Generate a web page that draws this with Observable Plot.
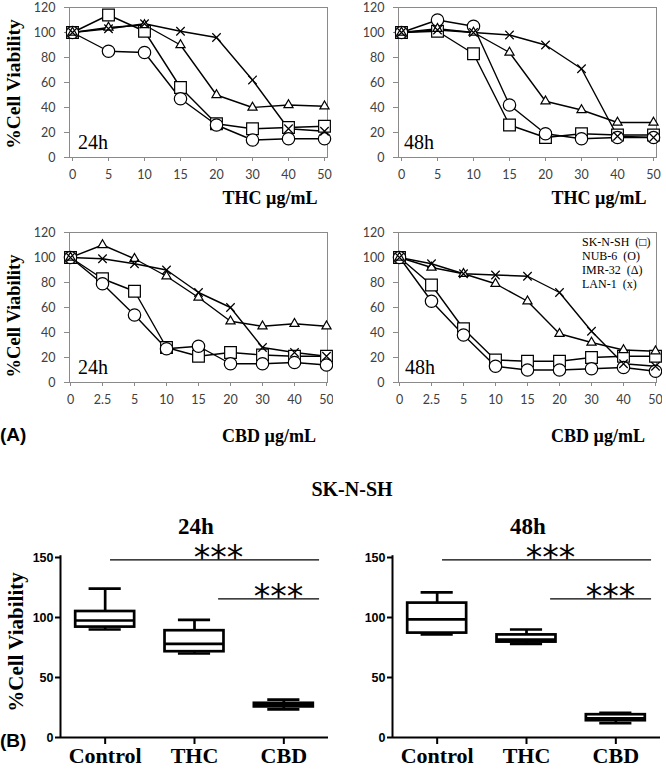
<!DOCTYPE html>
<html><head><meta charset="utf-8">
<script src="https://cdn.jsdelivr.net/npm/d3@7"></script>
<script src="https://cdn.jsdelivr.net/npm/@observablehq/plot@0.6"></script>
<style>
body{margin:0;background:#fff;}
#root{position:relative;width:666px;height:770px;overflow:hidden;background:#fff;}
.p{position:absolute;}
.t{position:absolute;white-space:pre;line-height:1;color:#000;}
</style></head><body><div id="root"></div>
<script>
// ---------- data ----------
const thcDoses = ["0","5","10","15","20","30","40","50"];
const cbdDoses = ["0","2.5","5","10","15","20","30","40","50"];
const lineYTicks = [0,20,40,60,80,100,120];

const cellLines = ["SK-N-SH","NUB-6","IMR-32","LAN-1"];
const legendSymbols = ["□","O","Δ","x"];

const thc24SKNSH = [100,114,101,56,27,23,24,25];
const thc24NUB6  = [100,85,84,47,26,14,15,15];
const thc24IMR32 = [100,104,106,90,50,40,42,41];
const thc24LAN1  = [100,103,107,101,96,62,23,21];

const thc48SKNSH = [100,101,83,26,16,19,18,18];
const thc48NUB6  = [100,110,105,42,19,15,16,16];
const thc48IMR32 = [100,103,100,84,45,38,28,28];
const thc48LAN1  = [100,102,100,98,90,71,17,16];

const cbd24SKNSH = [100,83,73,28,21,24,22,21,21];
const cbd24NUB6  = [100,79,54,27,29,15,15,16,14];
const cbd24IMR32 = [100,110,99,85,68,49,45,47,45];
const cbd24LAN1  = [100,99,95,90,72,60,28,24,21];

const cbd48SKNSH = [100,78,43,18,17,17,20,21,21];
const cbd48NUB6  = [100,65,38,13,10,10,11,12,9];
const cbd48IMR32 = [100,92,87,79,65,39,32,26,25];
const cbd48LAN1  = [100,95,87,86,85,72,41,15,13];

const boxGroups = ["Control","THC","CBD"];
const boxYTicks = [0,50,100,150];
const box24Low  = [90,70,23.5];
const box24Q1   = [92,71.5,25.5];
const box24Med  = [97.5,78,27];
const box24Q3   = [105,89,28.5];
const box24High = [124,98,31.5];
const box48Low  = [86,78,12];
const box48Q1   = [87,79.5,14];
const box48Med  = [98.5,81.5,16];
const box48Q3   = [112,85.5,19];
const box48High = [121,90,20.5];

const sigFrom = [1.06,2.27];
const sigTo   = [3.4,3.4];
const sigY    = [148,115.5];
const sigStarX = [2.27,2.94];
const sigText = ["***","***"];

// ---------- helpers ----------
const root = document.getElementById("root");
const SERIF = "Liberation Serif, Times New Roman, serif";
const SANS = "Liberation Sans, Arial, sans-serif";
const TICK = "Lato, Calibri, sans-serif";

function place(node, left, top) {
  const d = document.createElement("div");
  d.className = "p"; d.style.left = left + "px"; d.style.top = top + "px";
  d.appendChild(node); root.appendChild(d);
}
function addText(str, {x, y, size, family = SERIF, weight = "normal", anchor = "start", rotate = false}) {
  const d = document.createElement("div");
  d.className = "t";
  d.textContent = str;
  d.style.fontSize = size + "px";
  d.style.fontFamily = family;
  d.style.fontWeight = weight;
  if (rotate) {
    d.style.left = x + "px"; d.style.top = y + "px";
    d.style.transform = "translate(-50%,-50%) rotate(-90deg)";
  } else {
    d.style.left = x + "px"; d.style.top = (y - 0.84 * size) + "px";
    if (anchor === "middle") d.style.transform = "translateX(-50%)";
  }
  root.appendChild(d);
}

const symbolStyles = [
  {symbol: "square", r: 6.6, fill: "#fff"},
  {symbol: "circle", r: 6.2, fill: "#fff"},
  {symbol: "triangle", r: 3.4, fill: "#fff"},
  {symbol: "times", r: 3.9, fill: "none"}
];

function linePanel(doses, seriesValues, left, top, height) {
  const marks = [
    Plot.frame({stroke: "#8a8a8a"}),
    Plot.axisY({ticks: lineYTicks, tickSize: 5, tickPadding: 9, stroke: "#8a8a8a", color: "#404040",
      fontSize: 12.5, fontFamily: TICK, label: null}),
    Plot.axisX({tickSize: 4, tickPadding: 9, stroke: "#8a8a8a", color: "#404040",
      fontSize: 12.5, fontFamily: TICK, label: null, tickFormat: d => d})
  ];
  seriesValues.forEach(vals => {
    marks.push(Plot.line(doses, {x: d => d, y: vals, stroke: "#000", strokeWidth: 1.4}));
  });
  seriesValues.forEach((vals, i) => {
    const s = symbolStyles[i];
    marks.push(Plot.dot(doses, {x: d => d, y: vals, symbol: s.symbol, r: s.r, fill: s.fill,
      stroke: "#000", strokeWidth: 1.2}));
  });
  const svg = Plot.plot({
    width: 333, height,
    marginLeft: 69, marginRight: 6, marginTop: 7, marginBottom: height - 157,
    x: {type: "point", domain: doses, padding: 0},
    y: {domain: [0, 120]},
    style: {fontFamily: TICK, fontSize: "12.5px", background: "transparent", color: "#404040"},
    marks
  });
  place(svg, left, top);
}

function boxPanel(low, q1, med, q3, high, left, marginLeft, marginRight) {
  const idx = [1, 2, 3];
  const bw = 0.33, cw = 0.18;
  const sw = 2.7;
  const svg = Plot.plot({
    width: 333, height: 245,
    marginLeft, marginRight, marginTop: 32, marginBottom: 33,
    x: {domain: [0.5, 3.5]},
    y: {domain: [0, 150]},
    style: {fontFamily: SANS, fontSize: "12.5px", background: "transparent", color: "#000"},
    marks: [
      Plot.ruleY(sigY, {y: d => d, x1: sigFrom, x2: sigTo, stroke: "#000", strokeWidth: 1.1}),
      Plot.text(sigY, {x: sigStarX, y: d => d, text: sigText, lineAnchor: "middle", dy: -1,
        fontSize: 33, fontFamily: "DejaVu Sans", fill: "#000"}),
      Plot.ruleX(idx, {x: d => d, y1: low, y2: high, stroke: "#000", strokeWidth: sw}),
      Plot.ruleY(low, {y: d => d, x1: idx.map(i => i - cw), x2: idx.map(i => i + cw), stroke: "#000", strokeWidth: sw}),
      Plot.ruleY(high, {y: d => d, x1: idx.map(i => i - cw), x2: idx.map(i => i + cw), stroke: "#000", strokeWidth: sw}),
      Plot.rect(idx, {x1: i => i - bw, x2: i => i + bw, y1: q1, y2: q3, fill: "#fff", stroke: "#000", strokeWidth: sw}),
      Plot.ruleY(med, {y: d => d, x1: idx.map(i => i - bw), x2: idx.map(i => i + bw), stroke: "#000", strokeWidth: sw}),
      Plot.ruleX([0.5], {x: d => d, y1: 0, y2: 151.5, stroke: "#000", strokeWidth: 2}),
      Plot.ruleY([0], {y: d => d, x1: 0.5, x2: 3.5, stroke: "#000", strokeWidth: 2}),
      Plot.axisY({ticks: boxYTicks, tickSize: 5, tickPadding: 2, strokeWidth: 2, stroke: "#000", color: "#000",
        fontFamily: SANS, fontWeight: "bold", fontSize: 12.5, label: null}),
      Plot.axisX({ticks: idx, tickFormat: i => boxGroups[i - 1], tickSize: 7, tickPadding: 3, strokeWidth: 2,
        stroke: "#000", color: "#000", fontFamily: SERIF, fontWeight: "bold", fontSize: 22, label: null})
    ]
  });
  place(svg, left, 525);
}

// ---------- panel A ----------
linePanel(thcDoses, [thc24SKNSH, thc24NUB6, thc24IMR32, thc24LAN1], 0, 0, 185);
linePanel(thcDoses, [thc48SKNSH, thc48NUB6, thc48IMR32, thc48LAN1], 329, 0, 185);
linePanel(cbdDoses, [cbd24SKNSH, cbd24NUB6, cbd24IMR32, cbd24LAN1], 0, 225, 184);
linePanel(cbdDoses, [cbd48SKNSH, cbd48NUB6, cbd48IMR32, cbd48LAN1], 329, 225, 184);

addText("%Cell Viability", {x: 14, y: 84, size: 19.5, weight: "bold", rotate: true});
addText("%Cell Viability", {x: 14, y: 316, size: 18.5, weight: "bold", rotate: true});
addText("THC µg/mL", {x: 270, y: 204, size: 18, weight: "bold", anchor: "middle"});
addText("THC µg/mL", {x: 599, y: 204, size: 18, weight: "bold", anchor: "middle"});
addText("CBD µg/mL", {x: 269, y: 442, size: 18, weight: "bold", anchor: "middle"});
addText("CBD µg/mL", {x: 598, y: 442, size: 18, weight: "bold", anchor: "middle"});
addText("24h", {x: 78, y: 149, size: 20});
addText("48h", {x: 404, y: 149, size: 20});
addText("24h", {x: 78, y: 374, size: 20});
addText("48h", {x: 405, y: 374, size: 20});
cellLines.forEach((name, i) => {
  addText(name + "  (" + legendSymbols[i] + ")", {x: 582, y: 246 + 14 * i, size: 12});
});
addText("(A)", {x: 0, y: 441, size: 19, family: SANS, weight: "bold"});

// ---------- panel B ----------
boxPanel(box24Low, box24Q1, box24Med, box24Q3, box24High, 0, 60, 5);
boxPanel(box48Low, box48Q1, box48Med, box48Q3, box48High, 333, 59, 6);
addText("SK-N-SH", {x: 352, y: 496, size: 20, weight: "bold", anchor: "middle"});
addText("24h", {x: 196, y: 534, size: 23, weight: "bold", anchor: "middle"});
addText("48h", {x: 528, y: 534, size: 23, weight: "bold", anchor: "middle"});
addText("%Cell Viability", {x: 16, y: 642, size: 21, weight: "bold", rotate: true});
addText("(B)", {x: 0, y: 747, size: 19, family: SANS, weight: "bold"});
</script></body></html>
